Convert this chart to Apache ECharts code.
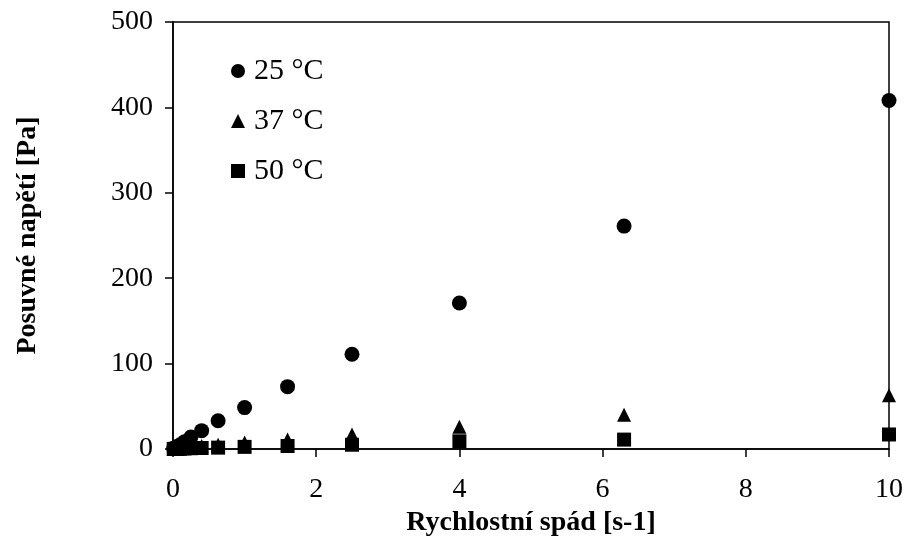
<!DOCTYPE html>
<html>
<head>
<meta charset="utf-8">
<script src="https://cdn.jsdelivr.net/npm/echarts@6/dist/echarts.min.js"></script>
<style>html,body{margin:0;padding:0;background:#fff;}#c{width:909px;height:554px;}</style>
</head>
<body>
<div id="c"></div>
<script>
const shearRates = [0.01, 0.016, 0.025, 0.04, 0.063, 0.1, 0.16, 0.25, 0.4, 0.63, 1, 1.6, 2.5, 4, 6.3, 10];
const stress25 = [0.5, 0.8, 1.2, 2, 3, 5, 8.5, 14, 21.5, 33, 48.5, 73, 111, 171, 261, 408];
const stress37 = [0.1, 0.2, 0.3, 0.5, 0.7, 1, 1.5, 2.3, 3.5, 5, 7.5, 11, 17, 26, 40, 63];
const stress50 = [0.05, 0.08, 0.1, 0.15, 0.25, 0.4, 0.6, 0.9, 1.2, 1.6, 2.5, 3.5, 5, 9, 11, 17];
const seriesNames = ['25 °C', '37 °C', '50 °C'];
const xTicks = [0, 2, 4, 6, 8, 10];
const yTicks = [0, 100, 200, 300, 400, 500];

const pair = (ys) => shearRates.map((x, i) => [x, ys[i]]);
const font = 'Liberation Serif';

const chart = echarts.init(document.getElementById('c'));
chart.setOption({
  animation: false,
  backgroundColor: '#fff',
  grid: { left: 173, right: 20, top: 22, bottom: 105, show: true, borderColor: '#000', borderWidth: 1.5 },
  legend: {
    orient: 'vertical',
    left: 231,
    top: 56,
    padding: 0,
    itemWidth: 14,
    itemHeight: 14,
    itemGap: 20,
    textStyle: { fontFamily: font, fontSize: 30, color: '#000', lineHeight: 30, padding: [0, 0, 0, 4] },
    data: seriesNames
  },
  xAxis: {
    type: 'value',
    min: xTicks[0], max: xTicks[xTicks.length - 1], interval: 2,
    name: 'Rychlostní spád [s-1]',
    nameLocation: 'middle',
    nameGap: 58,
    nameTextStyle: { fontFamily: font, fontSize: 28, fontWeight: 'bold', color: '#000' },
    axisLine: { lineStyle: { color: '#000', width: 1.5 } },
    axisTick: { show: true, length: 8, lineStyle: { color: '#000', width: 1.5 } },
    axisLabel: { fontFamily: font, fontSize: 28, color: '#000', margin: 27 },
    splitLine: { show: false }
  },
  yAxis: {
    type: 'value',
    min: yTicks[0], max: yTicks[yTicks.length - 1], interval: 100,
    name: 'Posuvné napětí [Pa]',
    nameLocation: 'middle',
    nameGap: 131,
    nameTextStyle: { fontFamily: font, fontSize: 28, fontWeight: 'bold', color: '#000' },
    axisLine: { show: true, lineStyle: { color: '#000', width: 1.5 } },
    axisTick: { show: true, length: 8, lineStyle: { color: '#000', width: 1.5 } },
    axisLabel: { fontFamily: font, fontSize: 28, color: '#000', margin: 20 },
    splitLine: { show: false }
  },
  series: [
    { name: seriesNames[0], type: 'scatter', symbol: 'circle', symbolSize: 15, itemStyle: { color: '#000', opacity: 1 }, data: pair(stress25) },
    { name: seriesNames[1], type: 'scatter', symbol: 'triangle', symbolSize: 14, itemStyle: { color: '#000', opacity: 1 }, data: pair(stress37) },
    { name: seriesNames[2], type: 'scatter', symbol: 'rect', symbolSize: 14, itemStyle: { color: '#000', opacity: 1 }, data: pair(stress50) }
  ]
});
</script>
</body>
</html>
